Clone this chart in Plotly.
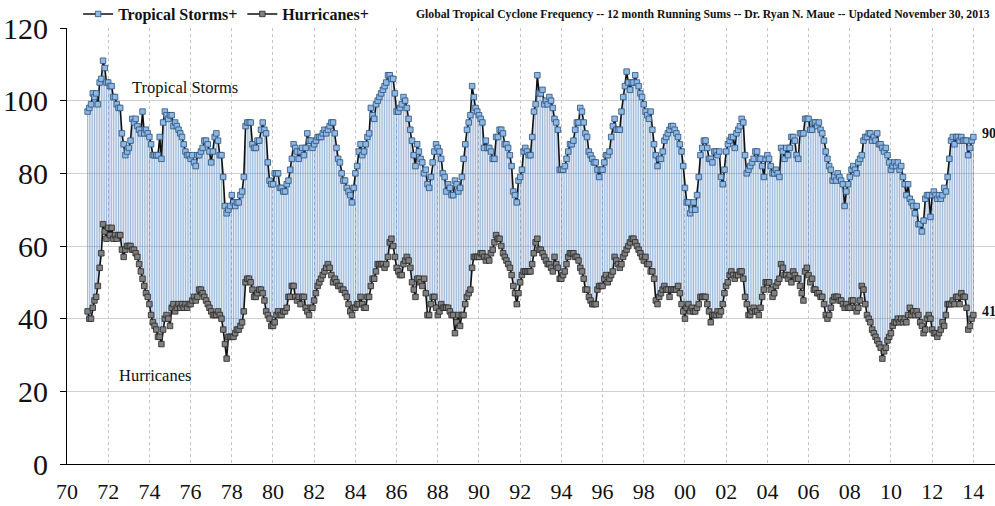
import plotly.graph_objects as go

# 12-month running sums, monthly, starting Jan 1971
start_year = 1971.0
tropical_storms = [
    97, 98, 99, 102, 101, 102, 99, 105, 106, 111, 109, 105, 105, 104, 104, 101, 101, 99, 98, 98,
    91, 88, 85, 86, 87, 89, 95, 94, 95, 93, 92, 91, 97, 91, 92, 91, 90, 88, 85, 85,
    85, 85, 90, 84, 94, 97, 96, 95, 96, 96, 93, 94, 93, 92, 91, 90, 88, 86, 85, 85,
    84, 85, 83, 82, 85, 85, 86, 87, 89, 89, 88, 86, 83, 86, 90, 91, 89, 85, 85, 79,
    71, 69, 70, 71, 74, 72, 71, 72, 72, 74, 75, 79, 93, 94, 94, 94, 88, 87, 87, 89,
    89, 92, 94, 92, 91, 83, 78, 77, 77, 80, 80, 80, 76, 76, 75, 75, 77, 78, 81, 84,
    88, 87, 86, 84, 86, 87, 85, 87, 91, 89, 89, 87, 88, 89, 90, 90, 90, 91, 92, 91,
    92, 93, 94, 94, 91, 87, 84, 83, 80, 78, 78, 76, 75, 74, 72, 76, 80, 82, 86, 88,
    85, 86, 88, 90, 91, 98, 96, 95, 99, 100, 101, 102, 103, 104, 105, 107, 107, 106, 106, 102,
    97, 97, 98, 99, 101, 100, 98, 95, 92, 89, 85, 82, 88, 86, 84, 83, 80, 81, 77, 76,
    79, 83, 86, 88, 87, 86, 84, 80, 79, 75, 77, 76, 74, 74, 78, 77, 75, 76, 79, 84,
    88, 92, 94, 96, 104, 101, 98, 97, 96, 95, 94, 87, 89, 87, 87, 86, 84, 84, 90, 90,
    92, 92, 91, 88, 88, 87, 85, 82, 75, 74, 72, 78, 79, 81, 86, 87, 86, 85, 85, 90,
    97, 99, 107, 102, 102, 103, 99, 100, 99, 101, 100, 98, 95, 94, 92, 81, 81, 81, 82, 84,
    86, 88, 88, 89, 92, 94, 94, 98, 97, 94, 91, 90, 86, 85, 84, 83, 83, 81, 79, 81,
    81, 83, 85, 85, 86, 90, 93, 95, 92, 92, 92, 97, 101, 104, 108, 105, 103, 105, 105, 107,
    105, 104, 102, 101, 99, 97, 96, 95, 97, 92, 88, 85, 82, 84, 84, 86, 89, 90, 91, 92,
    93, 93, 92, 91, 90, 88, 86, 82, 76, 72, 72, 69, 70, 72, 70, 74, 79, 85, 87, 89,
    89, 87, 84, 84, 83, 86, 86, 85, 86, 79, 77, 81, 86, 88, 89, 90, 90, 87, 91, 92,
    93, 95, 94, 85, 80, 81, 82, 83, 84, 86, 86, 84, 84, 82, 79, 84, 85, 84, 82, 80,
    80, 81, 80, 79, 87, 86, 84, 87, 85, 87, 90, 90, 89, 85, 84, 91, 91, 91, 95, 95,
    95, 92, 92, 94, 94, 93, 94, 92, 91, 89, 86, 84, 82, 81, 78, 79, 78, 80, 79, 78,
    77, 71, 75, 77, 79, 81, 82, 81, 80, 83, 84, 85, 89, 90, 90, 91, 91, 89, 90, 89,
    91, 88, 88, 87, 86, 87, 85, 83, 81, 82, 83, 82, 83, 81, 82, 79, 77, 74, 77, 73,
    72, 71, 69, 71, 66, 66, 64, 67, 73, 74, 74, 68, 74, 75, 74, 73, 74, 73, 74, 76,
    75, 79, 84, 89, 90, 88, 90, 90, 89, 90, 89, 89, 89, 85, 87, 89, 90,
]
hurricanes = [
    42, 40, 40, 43, 45, 46, 49, 54, 58, 66, 64, 62, 65, 63, 65, 62, 63, 62, 63, 63,
    59, 57, 59, 60, 60, 60, 59, 59, 58, 57, 55, 53, 51, 49, 47, 46, 44, 41, 39, 38,
    37, 35, 35, 33, 37, 40, 41, 40, 38, 43, 44, 42, 43, 44, 43, 44, 43, 44, 43, 44,
    44, 45, 46, 45, 46, 48, 48, 47, 46, 45, 44, 43, 42, 41, 41, 41, 42, 41, 40, 37,
    33, 29, 35, 35, 35, 35, 36, 37, 37, 38, 39, 42, 50, 51, 51, 50, 48, 46, 46, 47,
    48, 48, 47, 45, 42, 41, 40, 38, 38, 39, 41, 42, 41, 41, 42, 42, 43, 46, 46, 49,
    49, 46, 45, 46, 44, 46, 46, 43, 42, 41, 43, 43, 45, 47, 49, 50, 51, 52, 53, 54,
    55, 54, 52, 50, 51, 50, 49, 49, 48, 48, 47, 46, 44, 42, 41, 43, 43, 44, 44, 46,
    44, 43, 43, 46, 46, 49, 51, 51, 53, 55, 55, 55, 55, 54, 55, 57, 61, 62, 60, 57,
    54, 53, 52, 52, 55, 56, 57, 56, 54, 50, 48, 46, 51, 51, 50, 49, 51, 47, 41, 41,
    44, 46, 46, 43, 41, 42, 44, 43, 43, 43, 43, 42, 41, 41, 36, 39, 41, 38, 41, 41,
    44, 46, 47, 48, 54, 57, 57, 57, 57, 58, 58, 57, 56, 57, 56, 58, 59, 61, 63, 62,
    62, 60, 58, 57, 56, 55, 54, 52, 49, 47, 44, 47, 50, 52, 53, 53, 53, 53, 53, 55,
    58, 61, 62, 59, 59, 58, 57, 56, 55, 55, 54, 53, 57, 55, 54, 51, 51, 52, 53, 55,
    57, 58, 58, 58, 57, 57, 56, 54, 53, 51, 48, 48, 46, 45, 44, 44, 44, 48, 49, 49,
    49, 51, 52, 50, 51, 52, 53, 57, 56, 55, 54, 55, 57, 58, 59, 60, 61, 62, 62, 61,
    60, 59, 58, 57, 56, 57, 55, 55, 53, 53, 51, 45, 44, 46, 47, 48, 49, 48, 48, 46,
    48, 48, 48, 48, 49, 47, 44, 42, 40, 43, 44, 42, 43, 42, 42, 43, 44, 46, 46, 46,
    46, 44, 42, 39, 41, 41, 41, 42, 41, 42, 44, 47, 49, 50, 52, 53, 52, 51, 52, 52,
    53, 53, 51, 46, 44, 41, 41, 42, 43, 42, 42, 41, 43, 46, 48, 50, 50, 50, 48, 46,
    47, 49, 50, 51, 55, 54, 52, 52, 51, 52, 50, 53, 52, 51, 51, 49, 47, 45, 53, 54,
    52, 50, 51, 48, 48, 47, 47, 46, 46, 44, 41, 40, 41, 43, 45, 46, 46, 46, 45, 45,
    44, 43, 44, 43, 43, 45, 45, 43, 42, 43, 45, 49, 48, 44, 41, 40, 39, 37, 36, 35,
    34, 33, 32, 29, 31, 32, 34, 35, 36, 38, 39, 39, 40, 39, 40, 39, 40, 39, 41, 43,
    41, 42, 41, 42, 41, 39, 38, 36, 37, 40, 41, 40, 37, 36, 36, 35, 36, 37, 39, 38,
    41, 44, 44, 44, 45, 44, 46, 46, 44, 47, 46, 46, 43, 37, 38, 40, 41,
]
x_tick_years = list(range(1970, 2015, 2))
x_tick_labels = ["%02d" % (y % 100) for y in x_tick_years]
y_tick_values = [0, 20, 40, 60, 80, 100, 120]
series_names = ["Tropical Storms+", "Hurricanes+"]
chart_title = ("Global Tropical Cyclone Frequency -- 12 month Running Sums -- "
               "Dr. Ryan N. Maue -- Updated November 30, 2013")

n = min(len(tropical_storms), len(hurricanes))
months = [start_year + i / 12.0 for i in range(n)]

# high-low connector lines
vx, vy = [], []
for xv, h, t in zip(months, hurricanes[:n], tropical_storms[:n]):
    vx += [xv, xv, None]
    vy += [h, t, None]

SERIF = "Liberation Serif, Times New Roman, serif"

fig = go.Figure()
fig.add_trace(go.Scatter(x=vx, y=vy, mode="lines", showlegend=False, hoverinfo="skip",
                         line=dict(color="rgba(79,129,189,0.58)", width=1)))
fig.add_trace(go.Scatter(x=months, y=tropical_storms[:n], mode="lines+markers",
                         name=series_names[0],
                         line=dict(color="#111111", width=1.6),
                         marker=dict(symbol="square", size=5.5, color="#8DB9E8",
                                     line=dict(color="#2F4F75", width=0.8))))
fig.add_trace(go.Scatter(x=months, y=hurricanes[:n], mode="lines+markers",
                         name=series_names[1],
                         line=dict(color="#111111", width=1.6),
                         marker=dict(symbol="square", size=5.5, color="#808080",
                                     line=dict(color="#262626", width=0.8))))

annos = [
    dict(x=1973.05, y=103.5, text="Tropical Storms", showarrow=False, xanchor="left",
         font=dict(family=SERIF, size=16.5, color="#111111")),
    dict(x=1972.45, y=24.4, text="Hurricanes", showarrow=False, xanchor="left",
         font=dict(family=SERIF, size=16.5, color="#111111")),
    dict(x=months[-1], xshift=7, y=tropical_storms[n - 1] + 1, text=str(tropical_storms[n - 1]),
         showarrow=False, xanchor="left",
         font=dict(family=SERIF, size=14, color="#111111", weight="bold")),
    dict(x=months[-1], xshift=7, y=hurricanes[n - 1] + 1, text=str(hurricanes[n - 1]),
         showarrow=False, xanchor="left",
         font=dict(family=SERIF, size=14, color="#111111", weight="bold")),
    dict(xref="paper", yref="paper", x=1.0, xshift=-3, y=1.0, yshift=14,
         xanchor="right", yanchor="middle", text=chart_title, showarrow=False,
         font=dict(family=SERIF, size=11.7, color="#111111", weight="bold")),
]

fig.update_layout(
    width=995, height=506,
    margin=dict(l=67, r=0, t=28, b=42, autoexpand=False),
    paper_bgcolor="white", plot_bgcolor="white",
    font=dict(family=SERIF, color="#111111"),
    showlegend=True,
    legend=dict(orientation="h", x=0.012, y=1.032, yanchor="middle", xanchor="left",
                font=dict(family=SERIF, size=16, color="#111111", weight="bold"),
                bgcolor="rgba(0,0,0,0)", itemwidth=30, tracegroupgap=0),
    annotations=annos,
)
fig.update_xaxes(range=[1970, 2015.05], tickmode="array", tickvals=x_tick_years,
                 ticktext=x_tick_labels, showgrid=True, gridcolor="#C4C4C4",
                 griddash="dot", gridwidth=1, showline=True, linecolor="#000000",
                 linewidth=1, ticks="", zeroline=False, ticklabelstandoff=8,
                 tickfont=dict(family=SERIF, size=22, color="#111111"))
fig.update_yaxes(range=[0, 120], tickmode="array", tickvals=y_tick_values,
                 showgrid=True, gridcolor="#D0D0D0", gridwidth=1, showline=True,
                 linecolor="#000000", linewidth=1, ticks="outside", ticklen=6,
                 tickcolor="#000000", zeroline=False, ticklabelstandoff=6,
                 tickfont=dict(family=SERIF, size=30, color="#111111"))

fig.write_html("out.html", config={"displayModeBar": False},
               post_script="document.body.style.margin='0';document.body.style.padding='0';")
